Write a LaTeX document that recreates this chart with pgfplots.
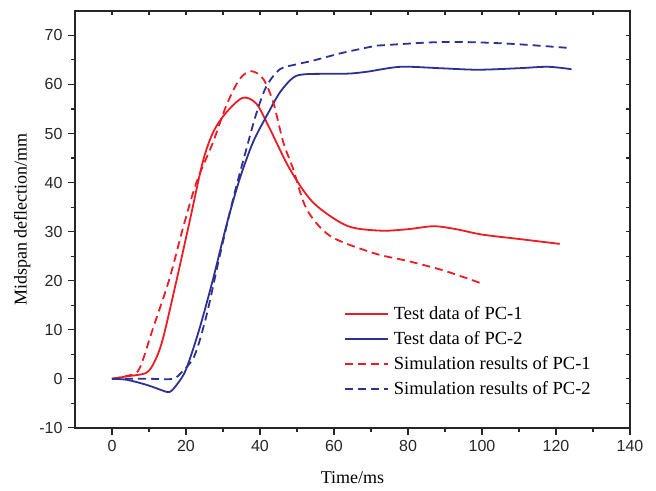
\documentclass[border=0pt]{standalone}
\usepackage{fontspec}
\setmainfont{Liberation Serif}
\newfontfamily\ticksf{Liberation Sans}
\usepackage{pgfplots}
\pgfplotsset{compat=1.18}
\definecolor{myred}{RGB}{237,28,36}
\definecolor{myblue}{RGB}{46,49,146}
\begin{document}
\fontsize{16}{19}\selectfont
\begin{tikzpicture}
\pgfplotsset{
  common/.style={
    scale only axis, width=555pt, height=417pt,
    xmin=-10, xmax=140, ymin=-10, ymax=75,
    xtick={0,20,...,140}, ytick={-10,0,...,70},
    minor x tick num=1, minor y tick num=1,
    axis line style={line width=1.3pt, black!85},
    every tick/.style={line width=1.1pt, black!85},
    major tick length=7pt, minor tick length=4pt,
  }
}
\begin{axis}[common,
  xtick pos=bottom, ytick pos=left, tick align=outside,
  /pgf/number format/assume math mode=true,
  tick label style={font=\ticksf\fontsize{16}{19}\selectfont, black!85},
  xlabel={Time/ms}, ylabel={Midspan deflection/mm},
  label style={font=\fontsize{18}{21}\selectfont},
  xlabel style={yshift=-9pt},
  ylabel style={yshift=-2pt},
  legend style={draw=none, fill=none, at={(0.479,0.301)}, anchor=north west,
    font=\fontsize{18.5}{21}\selectfont, row sep=5.5pt},
  legend cell align=left,
  legend image code/.code={\draw[#1] (0pt,0pt) -- (43pt,0pt); \path (46pt,0pt);},
]
\addplot[myred, line width=1.8pt, smooth, tension=0.5] coordinates {
(0,0) (4,0.5) (9.2,1.2) (11.5,3.5) (13.7,8.0) (17.3,19.6) (20.9,31.8) (24.5,44.1) (27.3,50.2) (30.9,54.3) (35.4,57.3) (39.1,56.0) (42.7,50.9) (48.1,42.7) (54.4,35.9) (63.5,31.2) (72.6,30.2) (80,30.5) (87,31.1) (93,30.5) (100,29.4) (110,28.5) (121,27.5)};
\addlegendentry{Test data of PC-1}
\addplot[myblue, line width=1.8pt, smooth, tension=0.5] coordinates {
(0,0) (4,-0.2) (9.2,-1.2) (13,-2.2) (15.5,-2.7) (17.5,-1.2) (20.0,1.9) (23.6,10.1) (27.3,20.3) (30.9,31.2) (34.5,40.7) (38.1,48.2) (41.8,53.6) (45.4,58.4) (49.0,61.4) (52.6,62.1) (63.5,62.2) (69,62.6) (78,63.6) (88.9,63.3) (98.9,63.0) (109.7,63.3) (117.9,63.6) (124.2,63.1)};
\addlegendentry{Test data of PC-2}
\addplot[myred, line width=1.8pt, dash pattern=on 8pt off 5pt, smooth, tension=0.5] coordinates {
(0,0) (4,0.6) (7.3,1.9) (11.0,10.1) (15.5,20.3) (19.1,30.5) (22.8,40.0) (27.3,48.2) (30.9,55.7) (34.5,61.1) (37.7,62.7) (40.9,61.1) (43.6,56.3) (46.3,48.2) (49,42.7) (52.6,34.6) (59,29.1) (70.8,25.6) (80,24.0) (90,22.0) (100,19.4)};
\addlegendentry{Simulation results of PC-1}
\addplot[myblue, line width=1.8pt, dash pattern=on 8pt off 5pt, smooth, tension=0.5] coordinates {
(0,0) (10,0) (16.4,0) (19,1.5) (22.3,4.7) (25.5,12.8) (29.1,25.0) (32.7,36.6) (36.3,46.8) (39.1,54.3) (41.8,59.7) (45.4,63.1) (49.9,64.1) (54,64.8) (59,65.8) (62.6,66.5) (70.8,67.8) (73.5,68.0) (87.1,68.6) (97.9,68.6) (109.7,68.2) (124.2,67.4)};
\addlegendentry{Simulation results of PC-2}
\end{axis}
\begin{axis}[common,
  xtick pos=top, ytick pos=right, tick align=inside,
  xticklabels={}, yticklabels={},
  major tick length=4pt,
]
\end{axis}
\path ([xshift=-75pt,yshift=-63pt]current axis.south west) rectangle ([xshift=26pt,yshift=9pt]current axis.north east);
\end{tikzpicture}
\end{document}
